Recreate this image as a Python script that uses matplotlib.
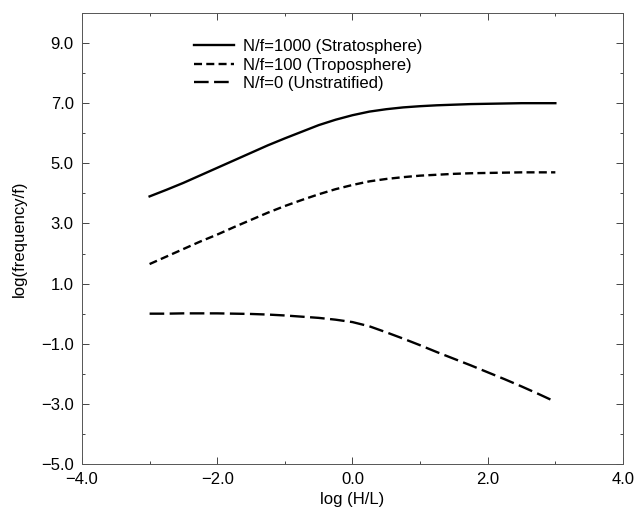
import matplotlib
matplotlib.use('Agg')
import matplotlib.pyplot as plt
from matplotlib.ticker import MultipleLocator, FuncFormatter

plt.rcParams['font.family'] = ['Liberation Sans', 'DejaVu Sans']

# log(H/L) sample points
log_hl = [-3.0, -2.75, -2.5, -2.25, -2.0, -1.75, -1.5, -1.25, -1.0, -0.75, -0.5, -0.25,
          0.0, 0.25, 0.5, 0.75, 1.0, 1.25, 1.5, 1.75, 2.0, 2.25, 2.5, 2.75, 3.0]

# log(frequency/f) for each stratification
strato = [3.9, 4.12, 4.35, 4.6, 4.85, 5.1, 5.35, 5.6, 5.83, 6.05, 6.27, 6.45,
          6.6, 6.72, 6.8, 6.86, 6.9, 6.93, 6.95, 6.97, 6.98, 6.99, 7.0, 7.0, 7.0]
tropo = [1.65, 1.9, 2.15, 2.4, 2.63, 2.88, 3.12, 3.36, 3.58, 3.78, 3.97, 4.14,
         4.28, 4.4, 4.48, 4.54, 4.59, 4.62, 4.65, 4.67, 4.68, 4.69, 4.7, 4.7, 4.7]
unstrat = [0.0, 0.0, 0.01, 0.01, 0.01, 0.0, -0.01, -0.03, -0.06, -0.1, -0.14, -0.2,
           -0.28, -0.42, -0.62, -0.83, -1.05, -1.28, -1.5, -1.72, -1.95, -2.18, -2.42, -2.67, -2.93]

labels = ['N/f=1000 (Stratosphere)', 'N/f=100 (Troposphere)', 'N/f=0 (Unstratified)']

fig = plt.figure(figsize=(6.34, 5.07), dpi=100)
ax = fig.add_axes([0.1293, 0.0848, 0.8533, 0.8896])

ax.plot(log_hl, strato, color='black', lw=1.7, label=labels[0])
ax.plot(log_hl, tropo, color='black', lw=1.7, dashes=(3.4, 1.8), label=labels[1])
ax.plot(log_hl, unstrat, color='black', lw=1.7, dashes=(6.2, 2.3), label=labels[2])

ax.set_xlim(-4, 4)
ax.set_ylim(-5, 10)
ax.xaxis.set_major_locator(MultipleLocator(2))
ax.xaxis.set_minor_locator(MultipleLocator(1))
ax.set_yticks([-5, -3, -1, 1, 3, 5, 7, 9])
ax.yaxis.set_minor_locator(MultipleLocator(1))

fmt = FuncFormatter(lambda v, pos: ('%.1f' % v).replace('-', '\u2212'))
ax.xaxis.set_major_formatter(fmt)
ax.yaxis.set_major_formatter(fmt)
ax.tick_params(which='both', direction='in', top=True, right=True,
               labelsize=12, color='#444444', width=0.7, pad=6)
ax.tick_params(which='major', length=5)
ax.tick_params(which='minor', length=2.5)
for sp in ax.spines.values():
    sp.set_linewidth(0.7)
    sp.set_color('#555555')

ax.set_xlabel('log (H/L)', fontsize=12, labelpad=3)
ax.set_ylabel('log(frequency/f)', fontsize=12, labelpad=10)

ax.legend(loc='upper left', bbox_to_anchor=(0.18, 0.975), frameon=False,
          fontsize=12, handlelength=2.4, handletextpad=0.5,
          labelspacing=0.2)

fig.savefig('out.png', dpi=100)
